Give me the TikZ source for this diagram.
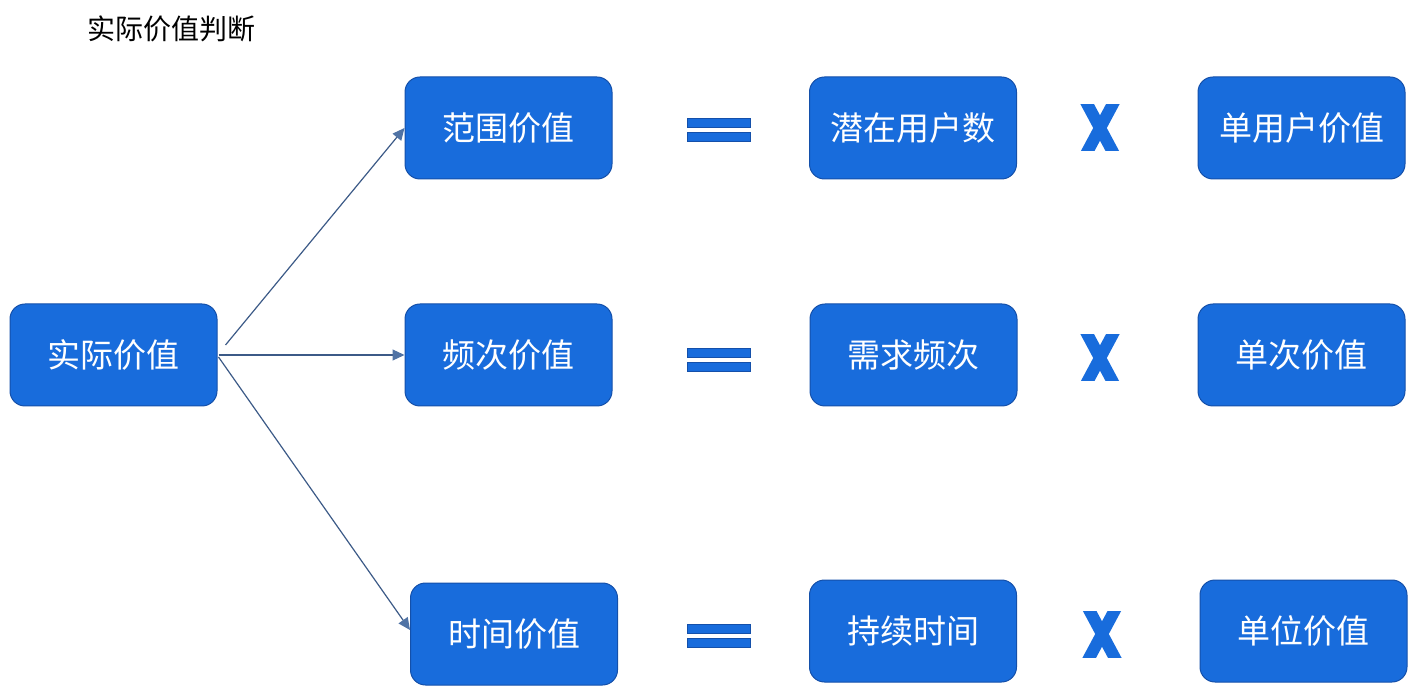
\documentclass[tikz,border=0pt]{standalone}
\usepackage{fontspec}
\setmainfont{Noto Sans CJK SC}
\usetikzlibrary{arrows.meta}
\definecolor{boxblue}{RGB}{24,108,220}
\definecolor{boxedge}{RGB}{20,80,170}
\definecolor{arrline}{RGB}{60,90,135}
\definecolor{arrhead}{RGB}{80,115,165}
\tikzset{
  valbox/.style={draw=boxedge, line width=0.5pt, fill=boxblue, rounded corners=7.5pt,
    minimum width=103.5pt, minimum height=51pt, text=white, font=\fontsize{16.5}{20}\selectfont, inner sep=0pt},
  arr/.style={draw=arrline, line width=0.6pt, -{Triangle[length=6pt,width=5.5pt,fill=arrhead,color=arrhead]}},
  eqbar/.style={fill=boxblue, draw=boxedge, line width=0.4pt},
  xmark/.style={draw=boxblue, line width=6pt}
}
\begin{document}
\begin{tikzpicture}[x=0.5pt,y=-0.5pt]
\useasboundingbox (0,0) rectangle (1418,694);
\node[font=\fontsize{14}{17}\selectfont, anchor=center] (title) at (171,29) {实际价值判断};
\node[valbox] (a) at (113.5,355) {实际价值};
\node[valbox] (r1) at (508.5,128) {范围价值};
\node[valbox] (r2) at (508.5,355) {频次价值};
\node[valbox] (r3) at (514,634) {时间价值};
\node[valbox] (m1) at (913,128) {潜在用户数};
\node[valbox] (m2) at (913.5,355) {需求频次};
\node[valbox] (m3) at (913,631) {持续时间};
\node[valbox] (n1) at (1301.5,128) {单用户价值};
\node[valbox] (n2) at (1301.5,355) {单次价值};
\node[valbox] (n3) at (1303.5,631) {单位价值};
\draw[arr] ([xshift=4pt,yshift=5pt]a.east) -- (r1.west);
\draw[arr] ([xshift=0.5pt]a.east) -- (r2.west);
\draw[arr] ([xshift=0.5pt,yshift=-1pt]a.east) -- ([yshift=2pt]r3.west);
\foreach \y in {128,358,634}{
  \path[eqbar] (687,\y-10) rectangle (750,\y-1);
  \path[eqbar] (687,\y+4) rectangle (750,\y+13);
}
\foreach \cx/\cy in {1100/128,1100/358,1102/634}{
  \begin{scope}
    \clip (\cx-21,\cy-23) rectangle (\cx+21,\cy+23);
    \draw[xmark] (\cx-15,\cy-28) -- (\cx+15,\cy+28);
    \draw[xmark] (\cx+15,\cy-28) -- (\cx-15,\cy+28);
  \end{scope}
}
\end{tikzpicture}
\end{document}
